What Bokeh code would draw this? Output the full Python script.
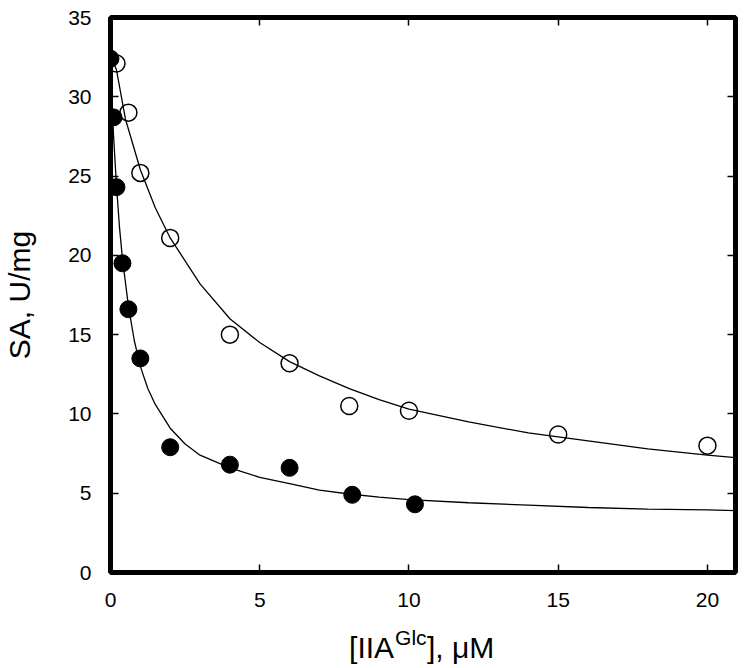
from bokeh.plotting import figure
from bokeh.layouts import column
from bokeh.models import Range1d, LinearAxis, FixedTicker, Label, CustomJSTickFormatter
from bokeh.embed import file_html
from bokeh.resources import INLINE

# ---- data ----
filled_x = [0.0, 0.1, 0.2, 0.4, 0.6, 1.0, 2.0, 4.0, 6.0, 8.1, 10.2]
filled_y = [32.4, 28.7, 24.3, 19.5, 16.6, 13.5, 7.9, 6.8, 6.6, 4.9, 4.3]

open_x = [0.2, 0.6, 1.0, 2.0, 4.0, 6.0, 8.0, 10.0, 15.0, 20.0]
open_y = [32.1, 29.0, 25.2, 21.1, 15.0, 13.2, 10.5, 10.2, 8.7, 8.0]

# fitted curves
fit_filled_x = [0.0, 0.05, 0.1, 0.2, 0.3, 0.4, 0.6, 0.8, 1.0, 1.25, 1.5, 2.0, 2.5,
                3.0, 4.0, 5.0, 6.0, 7.0, 8.0, 9.0, 10.0, 12.0, 14.0, 16.0, 18.0, 20.0, 20.94]
fit_filled_y = [32.5, 29.9, 27.6, 24.4, 21.8, 19.8, 16.8, 14.6, 13.0, 11.6, 10.6, 9.1, 8.1,
                7.4, 6.6, 6.0, 5.6, 5.2, 4.95, 4.75, 4.6, 4.4, 4.25, 4.1, 4.0, 3.95, 3.9]

fit_open_x = [0.0, 0.2, 0.5, 1.0, 1.5, 2.0, 3.0, 4.0, 5.0, 6.0, 7.0, 8.0, 9.0, 10.0,
              12.0, 14.0, 16.0, 18.0, 20.0, 20.94]
fit_open_y = [32.6, 31.7, 28.6, 25.4, 23.0, 21.1, 18.2, 16.0, 14.5, 13.3, 12.4, 11.6, 10.9, 10.3,
              9.5, 8.8, 8.3, 7.8, 7.4, 7.25]

x_ticks = [0, 5, 10, 15, 20]
y_ticks = [0, 5, 10, 15, 20, 25, 30, 35]

FONT = "Liberation Sans"
BL, BR = 109, 15

p = figure(width=750, height=620, x_range=Range1d(0, 20.94), y_range=Range1d(0, 35),
           output_backend="svg", toolbar_location=None, title=None,
           x_axis_type=None, y_axis_type=None,
           min_border_left=BL, min_border_right=BR, min_border_top=17, min_border_bottom=48)
p.outline_line_color = "black"
p.outline_line_width = 5
p.outline_line_alpha = 1.0
p.background_fill_color = "white"
p.border_fill_color = "white"


def style(ax, labels=True):
    ax.axis_line_color = None
    ax.major_tick_in = 8
    ax.major_tick_out = 0
    ax.major_tick_line_width = 1.5
    ax.major_tick_line_color = "black"
    ax.minor_tick_line_color = None
    ax.major_label_text_font = FONT
    ax.major_label_text_font_size = "21px"
    ax.major_label_text_color = "black"
    if not labels:
        ax.formatter = CustomJSTickFormatter(code="return ''")
        ax.major_label_standoff = 0


bottom = LinearAxis(ticker=FixedTicker(ticks=x_ticks))
style(bottom)
bottom.major_label_standoff = 20
p.add_layout(bottom, "below")

left = LinearAxis(ticker=FixedTicker(ticks=y_ticks), axis_label="SA, U/mg")
style(left)
left.major_label_standoff = 19
left.axis_label_text_font = FONT
left.axis_label_text_font_size = "30px"
left.axis_label_text_font_style = "normal"
left.axis_label_text_color = "black"
left.axis_label_standoff = 29
p.add_layout(left, "left")

right = LinearAxis(ticker=FixedTicker(ticks=y_ticks))
style(right, labels=False)
p.add_layout(right, "right")

top = LinearAxis(ticker=FixedTicker(ticks=x_ticks))
style(top, labels=False)
p.add_layout(top, "above")

# curves
p.line(fit_open_x, fit_open_y, line_color="black", line_width=1.3)
p.line(fit_filled_x, fit_filled_y, line_color="black", line_width=1.3)

# points
p.scatter(open_x, open_y, marker="circle", size=17, fill_color=None,
          line_color="black", line_width=1.5)
p.scatter(filled_x, filled_y, marker="circle", size=17, fill_color="black",
          line_color="black", line_width=1)

# x-axis title with superscript, in a strip below the plot (same side borders as the plot)
t = figure(width=750, height=48, x_range=Range1d(0, 750 - BL - BR), y_range=Range1d(0, 48),
           output_backend="svg", toolbar_location=None, title=None,
           x_axis_type=None, y_axis_type=None,
           min_border_left=BL, min_border_right=BR, min_border_top=0, min_border_bottom=0)
t.outline_line_color = None
t.background_fill_color = "white"
t.border_fill_color = "white"

tx, ty = 239, 21
t.add_layout(Label(x=tx, y=ty, text="[IIA",
                   text_font=FONT, text_font_size="30px", text_align="left",
                   text_baseline="alphabetic", text_color="black"))
t.add_layout(Label(x=tx + 46, y=ty + 10, text="Glc",
                   text_font=FONT, text_font_size="21px", text_align="left",
                   text_baseline="alphabetic", text_color="black"))
t.add_layout(Label(x=tx + 78, y=ty, text="], μM",
                   text_font=FONT, text_font_size="30px", text_align="left",
                   text_baseline="alphabetic", text_color="black"))

layout = column(p, t, spacing=0)
open("out.html", "w").write(file_html(layout, INLINE))
